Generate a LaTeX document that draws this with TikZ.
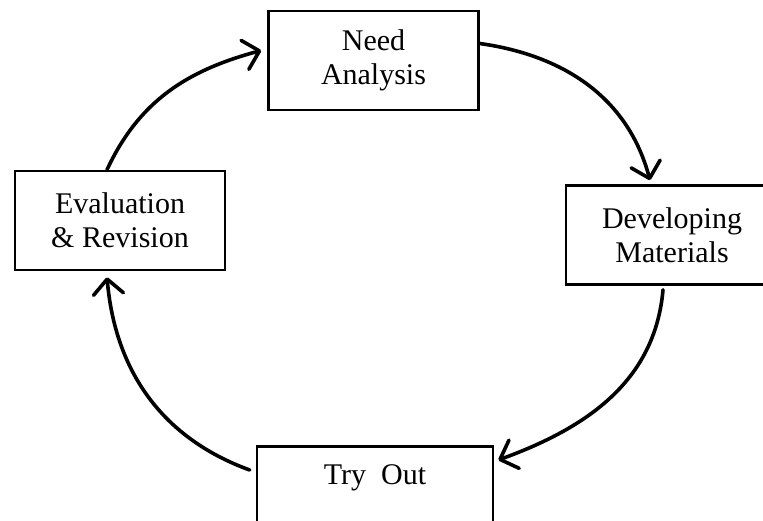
\documentclass[tikz,border=0pt]{standalone}
\usepackage{fontspec}
\setmainfont{Liberation Serif}
\usetikzlibrary{arrows.meta}

\begin{document}
\begin{tikzpicture}[x=1pt,y=1pt]
  \tikzstyle{stage} = [rectangle, draw=black, line width=2.6pt, minimum width=210pt, minimum height=99pt, align=center, font=\fontsize{30}{34}\selectfont]
  \tikzstyle{arrow} = [line width=3.6pt, line cap=round, -{Straight Barb[length=15pt,width=30pt,round]}]

  \useasboundingbox (0,0) rectangle (763,-520);
  \clip (0,0) rectangle (763,-520);

  \node (need) [stage] at (373.5,-60.5) {Need\\Analysis};
  \node (dev) [stage, minimum width=212pt] at (672,-235) {Developing\\Materials};
  \node (eval) [stage] at (120,-220.5) {Evaluation\\\& Revision};
  \node (try) [stage, anchor=north, inner sep=0pt, minimum width=236pt, text height=38pt, text depth=62pt] at (375,-445) {Try~\ Out};

  \draw [arrow] ([xshift=-13pt]eval.north) to[out=65, in=195] ([xshift=-6pt,yshift=10pt]need.west);
  \draw [arrow] ([yshift=17pt]need.east) to[out=-8, in=105] ([xshift=-22pt,yshift=4pt]dev.north);
  \draw [arrow] ([xshift=-9pt,yshift=-4pt]dev.south) to[out=265, in=20] ([xshift=4pt,yshift=-15pt]try.north east);
  \draw [arrow] ([xshift=-6pt,yshift=-25pt]try.north west) to[out=160, in=275] ([xshift=-13pt,yshift=-6pt]eval.south);
\end{tikzpicture}
\end{document}
